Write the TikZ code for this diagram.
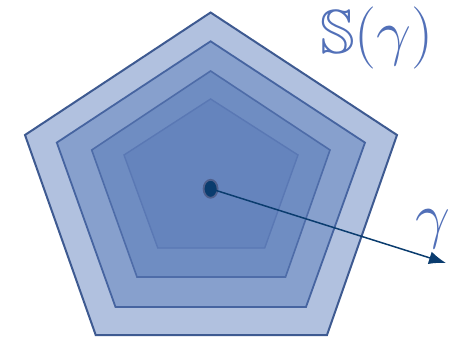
\documentclass[tikz,border=0pt]{standalone}
\usepackage{amssymb}
\usetikzlibrary{arrows.meta,shapes.geometric}
\definecolor{fillA}{RGB}{177,193,223}
\definecolor{fillB}{RGB}{135,160,205}
\definecolor{fillC}{RGB}{111,141,194}
\definecolor{fillD}{RGB}{101,132,189}
\definecolor{edgeA}{RGB}{62,90,145}
\definecolor{edgeB}{RGB}{70,100,160}
\definecolor{edgeC}{RGB}{78,108,168}
\definecolor{edgeD}{RGB}{90,120,180}
\definecolor{labelc}{RGB}{82,112,184}
\definecolor{navy}{RGB}{10,60,110}
\definecolor{dotedge}{RGB}{78,95,140}
\tikzset{
  layer/.style={line join=miter},
  lbl/.style={text=labelc, font=\Huge, scale=2.5, transform shape, inner sep=0pt},
}
\begin{document}
\begin{tikzpicture}[x=1pt,y=-1pt]
\useasboundingbox (0,0) rectangle (467,340);
\draw[layer, fill=fillA, draw=edgeA, line width=2pt]
  (210.6,12.5) -- (397,135) -- (327,335) -- (95.7,335) -- (25,135) -- cycle;
\draw[layer, fill=fillB, draw=edgeB, line width=1.8pt]
  (210.6,41.3) -- (365,142.6) -- (306,307) -- (115.5,307) -- (56.8,142.6) -- cycle;
\draw[layer, fill=fillC, draw=edgeC, line width=1.6pt]
  (210.6,71) -- (330,150) -- (285.5,277) -- (137,277) -- (91.7,150) -- cycle;
\draw[layer, fill=fillD, draw=edgeD, line width=1.4pt]
  (210.6,99) -- (298,155) -- (264.7,248) -- (157.8,248) -- (124,155) -- cycle;
\node[ellipse, fill=navy, draw=dotedge, line width=1.8pt, minimum width=14pt, minimum height=18pt, inner sep=0pt] (c) at (210.6,188.8) {};
\coordinate (g) at (446,263);
\draw[navy, line width=1.5pt, -{Latex[length=17pt,width=13pt]}] (c.center) ++(5,1.5) -- (g);
\node[lbl] (s) at (377,38) {$\mathbb{S}(\gamma)$};
\node[lbl] (gl) at (433,229) {$\gamma$};
\end{tikzpicture}
\end{document}
